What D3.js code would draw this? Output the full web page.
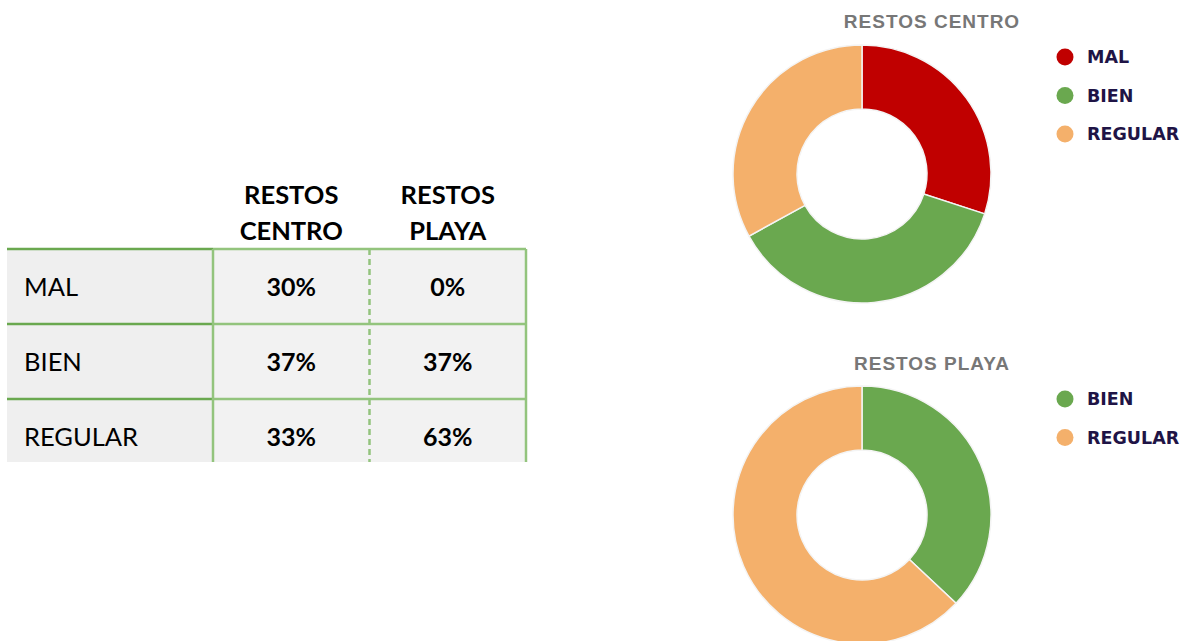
<!DOCTYPE html>
<html>
<head>
<meta charset="utf-8">
<script src="https://cdn.jsdelivr.net/npm/d3@7"></script>
<style>
  body { margin: 0; background: #fff; }
  svg { display: block; }
</style>
</head>
<body>
<div id="chart"></div>
<script>
// data
const categories = ["MAL", "BIEN", "REGULAR"]
const seriesNames = ["RESTOS CENTRO", "RESTOS PLAYA"]
const centroValues = [30, 37, 33]
const playaValues = [0, 37, 63]
const colors = ["#c00000", "#6aa84f", "#f4b06b"]

function drawChart() {

  const width = 1187
  const height = 641

  const wrapper = d3.select("#chart")
    .append("svg")
      .attr("width", width)
      .attr("height", height)

// 1. table

  const table = {
    left: 7,
    labelRight: 213,
    right: 526,
    top: 249,
    bottom: 462,   // visible bottom, last row is cut off
    rowsEnd: 474,
  }

  const rowScale = d3.scaleBand()
    .domain(categories)
    .range([table.top, table.rowsEnd])

  const colScale = d3.scaleBand()
    .domain(seriesNames)
    .range([table.labelRight, table.right])

  const tableG = wrapper.append("g")

  // cell backgrounds
  tableG.append("rect")
      .attr("x", table.left)
      .attr("y", table.top)
      .attr("width", table.labelRight - table.left)
      .attr("height", table.bottom - table.top)
      .attr("fill", "#efefef")
  tableG.append("rect")
      .attr("x", table.labelRight)
      .attr("y", table.top)
      .attr("width", table.right - table.labelRight)
      .attr("height", table.bottom - table.top)
      .attr("fill", "#f2f2f2")

  // horizontal lines (top + between rows)
  const hLines = categories.map(c => rowScale(c))
  tableG.selectAll(".hDark")
    .data(hLines)
    .join("line")
      .attr("x1", table.left)
      .attr("x2", table.labelRight)
      .attr("y1", d => d)
      .attr("y2", d => d)
      .attr("stroke", "#6aa84f")
      .attr("stroke-width", 2.5)
  tableG.selectAll(".hLight")
    .data(hLines)
    .join("line")
      .attr("x1", table.labelRight)
      .attr("x2", table.right)
      .attr("y1", d => d)
      .attr("y2", d => d)
      .attr("stroke", "#93c47d")
      .attr("stroke-width", 2.5)

  // vertical lines
  tableG.append("line")
      .attr("x1", table.labelRight).attr("x2", table.labelRight)
      .attr("y1", table.top).attr("y2", table.bottom)
      .attr("stroke", "#93c47d")
      .attr("stroke-width", 2.5)
  tableG.append("line")
      .attr("x1", table.right).attr("x2", table.right)
      .attr("y1", table.top).attr("y2", table.bottom)
      .attr("stroke", "#93c47d")
      .attr("stroke-width", 2.5)
  tableG.append("line")
      .attr("x1", colScale(seriesNames[1])).attr("x2", colScale(seriesNames[1]))
      .attr("y1", table.top).attr("y2", table.bottom)
      .attr("stroke", "#93c47d")
      .attr("stroke-width", 2.5)
      .attr("stroke-dasharray", "6 4")

  // headers
  seriesNames.forEach(name => {
    const words = name.split(" ")
    tableG.append("text")
        .attr("x", colScale(name) + colScale.bandwidth() / 2)
        .attr("y", 204)
        .attr("text-anchor", "middle")
        .style("font-family", "Lato, sans-serif")
        .style("font-weight", 700)
        .style("font-size", "25.5px")
        .attr("fill", "#000")
      .selectAll("tspan")
      .data(words)
      .join("tspan")
        .attr("x", colScale(name) + colScale.bandwidth() / 2)
        .attr("dy", (d, i) => i === 0 ? 0 : 36)
        .text(d => d)
  })

  // row labels
  tableG.selectAll(".rowLabel")
    .data(categories)
    .join("text")
      .attr("x", 24)
      .attr("y", d => rowScale(d) + rowScale.bandwidth() / 2 + 3)
      .attr("dominant-baseline", "middle")
      .style("font-family", "Lato, sans-serif")
      .style("font-size", "25.5px")
      .attr("fill", "#000")
      .text(d => d)

  // values
  const valueRows = [centroValues, playaValues]
  seriesNames.forEach((name, si) => {
    tableG.selectAll(".val" + si)
      .data(categories)
      .join("text")
        .attr("x", colScale(name) + colScale.bandwidth() / 2)
        .attr("y", (d, i) => rowScale(d) + rowScale.bandwidth() / 2 + 3)
        .attr("text-anchor", "middle")
        .attr("dominant-baseline", "middle")
        .style("font-family", "Lato, sans-serif")
        .style("font-weight", 700)
        .style("font-size", "25px")
        .attr("fill", "#000")
        .text((d, i) => valueRows[si][i] + "%")
  })

// 2. donuts

  const colorScale = d3.scaleOrdinal()
    .domain(categories)
    .range(colors)

  const donuts = [
    { name: seriesNames[0], values: centroValues, cy: 174, titleY: 28, legendY: 57 },
    { name: seriesNames[1], values: playaValues, cy: 515, titleY: 370, legendY: 399 },
  ]

  const pie = d3.pie()
    .sort(null)
    .value(d => d.value)

  const arc = d3.arc()
    .innerRadius(65)
    .outerRadius(129)

  donuts.forEach(donut => {
    const slices = categories.map((c, i) => ({ category: c, value: donut.values[i] }))
      .filter(d => d.value > 0)

    const g = wrapper.append("g")
      .attr("transform", `translate(862, ${donut.cy})`)

    g.selectAll("path")
      .data(pie(slices))
      .join("path")
        .attr("d", arc)
        .attr("fill", d => colorScale(d.data.category))
        .attr("stroke", "#f4f4f4")
        .attr("stroke-width", 1.5)

    wrapper.append("text")
        .attr("x", 932)
        .attr("y", donut.titleY)
        .attr("text-anchor", "middle")
        .style("font-family", "'Liberation Sans', Arial, sans-serif")
        .style("font-weight", 700)
        .style("font-size", "19px")
        .style("letter-spacing", "1px")
        .attr("fill", "#777777")
        .text(donut.name)

    const legend = wrapper.append("g")
      .attr("transform", `translate(1065, ${donut.legendY})`)

    const items = legend.selectAll("g")
      .data(slices)
      .join("g")
        .attr("transform", (d, i) => `translate(0, ${i * 38.5})`)

    items.append("circle")
        .attr("r", 8.5)
        .attr("fill", d => colorScale(d.category))

    items.append("text")
        .attr("x", 22)
        .attr("dominant-baseline", "central")
        .style("font-family", "'DejaVu Sans', Verdana, sans-serif")
        .style("font-weight", 700)
        .style("font-size", "17.5px")
        .attr("fill", "#1f1446")
        .text(d => d.category)
  })
}

drawChart()
</script>
</body>
</html>
